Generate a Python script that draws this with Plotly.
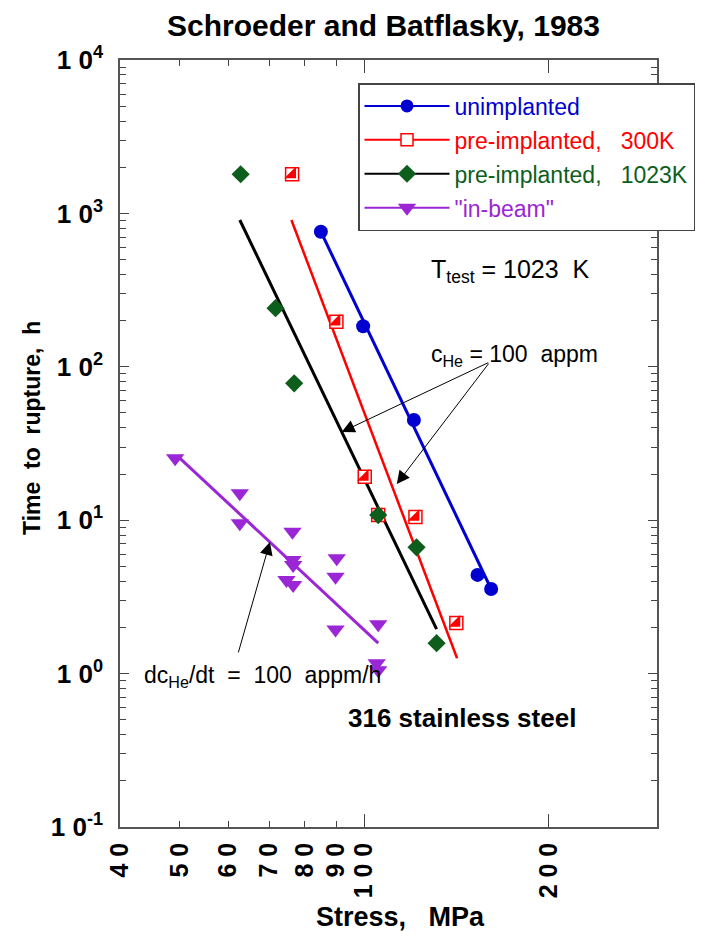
import numpy as np
import plotly.graph_objects as go

# ---------------- data ----------------
unimpl_stress = [85.0, 99.6, 120.5, 153.0, 161.0]
unimpl_time = [760.0, 184.0, 45.0, 4.4, 3.56]
unimpl_fit_stress = [85.0, 161.0]
unimpl_fit_time = [760.0, 3.56]

pre300_stress = [76.3, 90.1, 100.2, 105.4, 121.2, 141.3]
pre300_time = [1800.0, 197.0, 19.2, 10.8, 10.5, 2.14]
pre300_fit_stress = [76.1, 141.7]
pre300_fit_time = [906.0, 1.26]

pre1023_stress = [62.9, 71.7, 76.9, 105.4, 121.7, 131.2]
pre1023_time = [1800.0, 241.0, 78.0, 10.8, 6.66, 1.58]
pre1023_fit_stress = [62.7, 131.2]
pre1023_fit_time = [906.0, 1.95]

inbeam_stress = [49.2, 62.7, 62.7, 76.4, 90.2, 76.4, 76.6, 89.8, 74.7, 76.6, 89.8, 105.4, 104.8, 105.4]
inbeam_time = [25.3, 15.0, 9.55, 8.41, 5.64, 5.50, 5.10, 4.28, 4.07, 3.78, 1.94, 2.10, 1.17, 1.05]
inbeam_fit_stress = [49.8, 105.4]
inbeam_fit_time = [25.9, 1.58]

# arrow tips (stress, time)
arrow_tip_stress = [91.9, 113.0, 70.2]
arrow_tip_time = [37.6, 17.2, 7.21]

x_tickvals = [40, 50, 60, 70, 80, 90, 100, 200]
x_ticktext = ["4\u00a00", "5\u00a00", "6\u00a00", "7\u00a00", "8\u00a00", "9\u00a00", "1\u00a00\u00a00", "2\u00a00\u00a00"]
y_tickvals = [0.1, 1, 10, 100, 1000, 10000]
y_ticktext = ["1\u00a00<sup>-1</sup>", "1\u00a00<sup>0</sup>", "1\u00a00<sup>1</sup>",
              "1\u00a00<sup>2</sup>", "1\u00a00<sup>3</sup>", "1\u00a00<sup>4</sup>"]

BLUE = "#0000d0"
RED = "#ff0000"
GREEN = "#0d5e1c"
BLACK = "#000000"
PURPLE = "#9b26d6"

SANS = "Liberation Sans, Arial, sans-serif"

fig = go.Figure()

# fit lines
fig.add_trace(go.Scatter(x=unimpl_fit_stress, y=unimpl_fit_time, mode="lines",
                         line=dict(color=BLUE, width=3), showlegend=False))
fig.add_trace(go.Scatter(x=pre300_fit_stress, y=pre300_fit_time, mode="lines",
                         line=dict(color=RED, width=2.5), showlegend=False))
fig.add_trace(go.Scatter(x=pre1023_fit_stress, y=pre1023_fit_time, mode="lines",
                         line=dict(color=BLACK, width=3), showlegend=False))
fig.add_trace(go.Scatter(x=inbeam_fit_stress, y=inbeam_fit_time, mode="lines",
                         line=dict(color=PURPLE, width=3), showlegend=False))

# markers
fig.add_trace(go.Scatter(x=unimpl_stress, y=unimpl_time, mode="markers",
                         marker=dict(symbol="circle", size=14, color=BLUE), showlegend=False))
fig.add_trace(go.Scatter(x=pre300_stress, y=pre300_time, mode="markers",
                         marker=dict(symbol="square", size=13, color="white",
                                     line=dict(color=RED, width=1.5)), showlegend=False))
fig.add_trace(go.Scatter(x=pre300_stress, y=pre300_time, mode="markers",
                         marker=dict(symbol="triangle-se", size=13, color=RED, line=dict(width=0)),
                         showlegend=False))
fig.add_trace(go.Scatter(x=pre1023_stress, y=pre1023_time, mode="markers",
                         marker=dict(symbol="diamond", size=14, color=GREEN), showlegend=False))
fig.add_trace(go.Scatter(x=inbeam_stress, y=inbeam_time, mode="markers",
                         marker=dict(symbol="triangle-down", size=16, color=PURPLE), showlegend=False))

# legend entries
legend_items = [
    ("unimplanted", BLUE, BLUE, dict(symbol="circle", size=13, color=BLUE)),
    ("pre-implanted,\u00a0\u00a0 300K", RED, RED,
     dict(symbol="square", size=12, color="white", line=dict(color=RED, width=1.5))),
    ("pre-implanted,\u00a0\u00a0 1023K", GREEN, BLACK, dict(symbol="diamond", size=14, color=GREEN)),
    ('"in-beam"', PURPLE, PURPLE, dict(symbol="triangle-down", size=16, color=PURPLE)),
]
for i, (name, tcol, lcol, mk) in enumerate(legend_items):
    fig.add_trace(go.Scatter(x=[None], y=[None], mode="lines+markers",
                             name=f"<span style='color:{tcol}'>{name}</span>",
                             line=dict(color=lcol, width=2), marker=mk,
                             legendgroup=f"g{i}"))

# arrows
arrow_offsets = [(148, -70), (93, -122), (-32, 112)]
for sx, ty, (axo, ayo) in zip(arrow_tip_stress, arrow_tip_time, arrow_offsets):
    fig.add_annotation(x=np.log10(sx), y=np.log10(ty), xref="x", yref="y", text="",
                       showarrow=True, arrowhead=2, arrowsize=2.6, arrowwidth=1,
                       arrowcolor="black", ax=axo, ay=ayo, standoff=0)

L, R, T, B = 120, 47, 60, 105
W, H = 704, 932
pw, ph = W - L - R, H - T - B


def px(x):
    return (x - L) / pw


def py(y):
    return (H - B - y) / ph


annos = [
    dict(text="T<sub>test</sub> = 1023\u00a0 K", x=px(429), y=py(271), xanchor="left", yanchor="middle",
         font=dict(family=SANS, size=25, color="black")),
    dict(text="c<sub>He</sub> = 100\u00a0 appm", x=px(429), y=py(355), xanchor="left", yanchor="middle",
         font=dict(family=SANS, size=23, color="black")),
    dict(text="dc<sub>He</sub>/dt\u00a0 =\u00a0 100\u00a0 appm/h", x=px(142), y=py(676), xanchor="left",
         yanchor="middle", font=dict(family=SANS, size=23, color="black")),
    dict(text="316 stainless steel", x=px(462), y=py(718), xanchor="center", yanchor="middle",
         font=dict(family=SANS, size=26, color="black", weight="bold")),
    dict(text="Time\u00a0 to\u00a0 rupture,\u00a0 h", x=px(32), y=py(428), xanchor="center", yanchor="middle",
         textangle=-90, font=dict(family=SANS, size=23, color="black", weight="bold")),
    dict(text="Stress,\u00a0\u00a0 MPa", x=px(400), y=py(917), xanchor="center", yanchor="middle",
         font=dict(family=SANS, size=27, color="black", weight="bold")),
    dict(text="Schroeder and Batflasky, 1983", x=px(383), y=py(25), xanchor="center", yanchor="middle",
         font=dict(family=SANS, size=30, color="black", weight="bold")),
]
for a in annos:
    fig.add_annotation(xref="paper", yref="paper", showarrow=False, **a)

minor_y = [k * 10.0 ** d for d in range(-1, 4) for k in range(2, 10)]

fig.update_xaxes(type="log", range=[np.log10(40), np.log10(300)],
                 tickmode="array", tickvals=x_tickvals, ticktext=x_ticktext, tickangle=-90,
                 ticks="inside", ticklen=6, tickwidth=1.2, tickcolor="#444",
                 minor=dict(tickmode="array", tickvals=[100, 200], ticks="inside", ticklen=13,
                            tickwidth=1.2, tickcolor="#444"),
                 showline=True, linecolor="#555", linewidth=1.5, mirror="ticks",
                 showgrid=False, zeroline=False, ticklabelstandoff=4, automargin=False,
                 tickfont=dict(family=SANS, size=25, color="black", weight="bold"))
fig.update_yaxes(type="log", range=[-1, 4],
                 tickmode="array", tickvals=y_tickvals, ticktext=y_ticktext,
                 ticks="inside", ticklen=9, tickwidth=1.2, tickcolor="#444",
                 minor=dict(tickmode="array", tickvals=minor_y, ticks="inside", ticklen=6,
                            tickwidth=1.2, tickcolor="#444"),
                 showline=True, linecolor="#555", linewidth=1.5, mirror="ticks",
                 showgrid=False, zeroline=False, ticklabelstandoff=10, automargin=False,
                 tickfont=dict(family=SANS, size=26, color="black", weight="bold"))

fig.update_layout(
    width=W, height=H, margin=dict(l=L, r=R, t=T, b=B, autoexpand=False),
    paper_bgcolor="white", plot_bgcolor="white",
    showlegend=True,
    legend=dict(x=px(358), y=py(83), xanchor="left", yanchor="top",
                bgcolor="white", bordercolor="#444", borderwidth=1.5,
                font=dict(family=SANS, size=23, color="black"),
                itemwidth=85, traceorder="grouped", tracegroupgap=1),
)

fig.write_html("out.html")
